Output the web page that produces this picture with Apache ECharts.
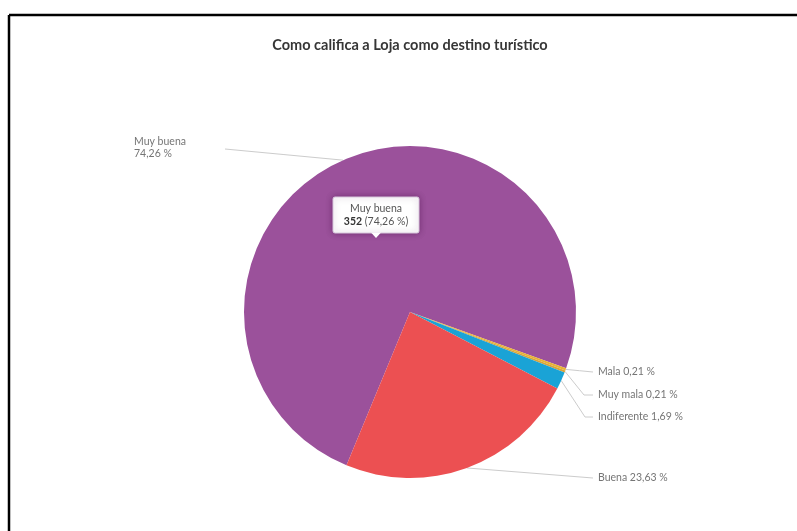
<!DOCTYPE html>
<html>
<head>
<meta charset="utf-8">
<script src="https://cdn.jsdelivr.net/npm/echarts@6/dist/echarts.min.js"></script>
<style>
  html, body { margin: 0; padding: 0; background: #fff; }
  #chart { width: 797px; height: 531px; }
</style>
</head>
<body>
<div id="chart"></div>
<script>
// Survey answers: how respondents rate Loja as a tourist destination
const categories = ['Muy buena', 'Mala', 'Muy mala', 'Indiferente', 'Buena'];
const counts = [352, 1, 1, 8, 112];
const percentLabels = ['74,26 %', '0,21 %', '0,21 %', '1,69 %', '23,63 %'];
const sliceColors = ['#9b519b', '#e9b234', '#d9a43a', '#1aa3d6', '#ec5052'];

const chartTitle = 'Como califica a Loja como destino turístico';

const FONT = 'Lato, "Open Sans", sans-serif';
const CENTER = [410, 312];
const RADIUS = 166;

// Where each outside label sits, and the bend of its leader line
const labelSpots = [
  { x: 134, y: 148, align: 'left', bend: null, end: [225, 149] },
  { x: 598, y: 372, align: 'left', bend: null, end: [593, 372] },
  { x: 598, y: 395, align: 'left', bend: [584, 395], end: [593, 395] },
  { x: 598, y: 417, align: 'left', bend: [585, 417], end: [593, 417] },
  { x: 598, y: 478, align: 'left', bend: null, end: [593, 478] }
];

const data = categories.map((name, i) => ({
  name: name,
  value: counts[i],
  itemStyle: { color: sliceColors[i] }
}));

const chart = echarts.init(document.getElementById('chart'), null, { renderer: 'canvas' });

// Callout box for the top answer
const leadIdx = 0;
const calloutX = 376, calloutY = 197, calloutW = 86, calloutH = 36;

chart.setOption({
  animation: false,
  backgroundColor: '#ffffff',
  title: {
    text: chartTitle,
    left: 405,
    top: 33,
    textAlign: 'center',
    textStyle: { fontFamily: FONT, fontSize: 14.5, fontWeight: 'bold', color: '#363636' }
  },
  graphic: [
    // frame lines along the top and left
    { type: 'line', shape: { x1: 9, y1: 15, x2: 797, y2: 15 }, style: { stroke: '#000', lineWidth: 2.5 }, z: 10 },
    { type: 'line', shape: { x1: 9, y1: 15, x2: 9, y2: 531 }, style: { stroke: '#000', lineWidth: 2.5 }, z: 10 },
    // value callout
    { type: 'rect', x: calloutX, y: calloutY, z: 100,
      shape: { x: -calloutW / 2, y: 0, width: calloutW, height: calloutH, r: 2 },
      style: { fill: '#ffffff', stroke: '#d8c7dc', lineWidth: 1, shadowBlur: 6, shadowColor: 'rgba(60,0,60,0.4)' } },
    { type: 'polygon', x: calloutX, y: calloutY, z: 101,
      shape: { points: [[-5, calloutH - 0.6], [5, calloutH - 0.6], [0, calloutH + 5]] },
      style: { fill: '#ffffff' } },
    { type: 'text', x: calloutX, y: calloutY + 6, z: 102,
      style: { text: categories[leadIdx], fontFamily: FONT, fontSize: 10.5, fill: '#555', align: 'center' } },
    { type: 'text', x: calloutX, y: calloutY + 19, z: 102,
      style: {
        text: '{b|' + counts[leadIdx] + '} (' + percentLabels[leadIdx] + ')',
        fontFamily: FONT, fontSize: 10.5, fill: '#555', align: 'center',
        rich: { b: { fontWeight: 'bold', fontFamily: FONT, fontSize: 10.5, fill: '#333' } }
      } }
  ],
  series: [{
    type: 'pie',
    center: CENTER,
    radius: RADIUS,
    startAngle: 247.5,
    clockwise: true,
    data: data,
    itemStyle: { borderWidth: 0 },
    label: {
      show: true,
      fontFamily: FONT,
      fontSize: 10.5,
      color: '#757575',
      lineHeight: 12,
      formatter: (p) => p.dataIndex === 0
        ? categories[p.dataIndex] + '\n' + percentLabels[p.dataIndex]
        : categories[p.dataIndex] + ' ' + percentLabels[p.dataIndex]
    },
    labelLine: {
      show: true,
      length: 10,
      length2: 10,
      smooth: false,
      lineStyle: { color: '#cccccc', width: 1 }
    },
    labelLayout: function (p) {
      const spot = labelSpots[p.dataIndex];
      const start = p.labelLinePoints ? p.labelLinePoints[0] : spot.end;
      const bend = spot.bend || [(start[0] + spot.end[0]) / 2, (start[1] + spot.end[1]) / 2];
      return {
        x: spot.x,
        y: spot.y,
        align: spot.align,
        verticalAlign: 'middle',
        labelLinePoints: [start, bend, spot.end]
      };
    }
  }]
});
</script>
</body>
</html>
